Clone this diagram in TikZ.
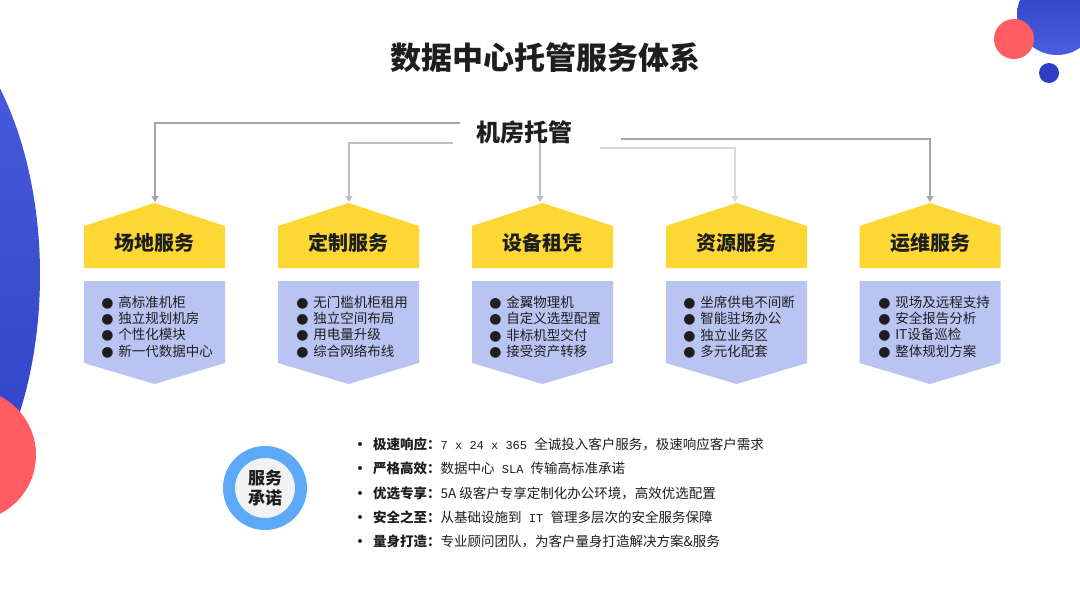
\documentclass[tikz,border=0pt]{standalone}
\usepackage{fontspec}
\setmainfont{Noto Sans CJK SC}
\newfontfamily\latmono{Liberation Mono}
\newfontfamily\dejavu{DejaVu Sans}
\usetikzlibrary{arrows.meta,calc}
\definecolor{hdr}{HTML}{FDD835}
\definecolor{bodyc}{HTML}{BAC4F2}
\definecolor{ringc}{HTML}{5BA9F7}
\definecolor{innerc}{HTML}{F2F2F2}
\definecolor{blueA}{HTML}{4A5EDE}
\definecolor{blueB}{HTML}{2C3FC3}
\definecolor{redc}{HTML}{FF5D63}
\definecolor{txt}{HTML}{1E1E1E}
\definecolor{gA}{HTML}{A6A6A6}
\definecolor{gB}{HTML}{BFBFBF}
\definecolor{gC}{HTML}{D9D9D9}
\tikzset{
  conn/.style={line width=2.2pt, -{Triangle[width=7pt,length=6pt]}},
  hdrtext/.style={font=\fontsize{20}{24}\selectfont\bfseries, text=txt, inner sep=0pt},
  itemtext/.style={font=\fontsize{13.5}{16.3}\selectfont, text=txt, align=left, inner sep=0pt},
  promise/.style={font=\fontsize{13.5}{16}\selectfont, text=txt, anchor=west, inner sep=0pt},
}
\newcommand{\itm}[1]{\makebox[17pt][l]{\dejavu\fontsize{14}{14}\selectfont ●}#1}
\newcommand{\pbul}{\makebox[17pt][l]{\dejavu •}}
\newcommand{\mono}[1]{{\latmono\fontsize{12}{16}\selectfont #1}}
\begin{document}
\begin{tikzpicture}[x=1pt,y=-1pt]
\useasboundingbox (0,0) rectangle (1080,608);
\fill[white] (0,0) rectangle (1080,608);
\begin{scope}
\clip (0,0) rectangle (1080,608);
\shade[top color=blueA, bottom color=blueB] (-120,275) ellipse [x radius=160, y radius=282];
\fill[redc] (-30,455) circle [radius=66];
\shade[top color=blueB, bottom color=blueA] (1057,15) circle [radius=40];
\fill[redc] (1014,39) circle [radius=20];
\fill[blueB] (1049,73) circle [radius=10];
\end{scope}

\node[font=\fontsize{31}{38}\selectfont\bfseries, text=txt] (title) at (545,58) {数据中心托管服务体系};

\node[font=\fontsize{24}{28}\selectfont\bfseries, text=txt, inner sep=0pt] (root) at (524,132.5) {机房托管};

% shapes
\foreach \c/\i in {154.5/1,348.5/2,542.5/3,736.5/4,930/5}{
  \fill[hdr] (\c-70.5,268) -- (\c-70.5,226) -- (\c,203) -- (\c+70.5,226) -- (\c+70.5,268) -- cycle;
  \fill[bodyc] (\c-70.5,281) -- (\c+70.5,281) -- (\c+70.5,363) -- (\c,384) -- (\c-70.5,363) -- cycle;
}

\node[hdrtext] (h1) at (154.5,243) {场地服务};
\node[hdrtext] (h2) at (348.5,243) {定制服务};
\node[hdrtext] (h3) at (542.5,243) {设备租凭};
\node[hdrtext] (h4) at (736.5,243) {资源服务};
\node[hdrtext] (h5) at (930,243) {运维服务};

\node[itemtext] (b1) at (157,327) {\itm{高标准机柜}\\\itm{独立规划机房}\\\itm{个性化模块}\\\itm{新一代数据中心}};
\node[itemtext] (b2) at (352,327) {\itm{无门槛机柜租用}\\\itm{独立空间布局}\\\itm{用电量升级}\\\itm{综合网络布线}};
\node[itemtext] (b3) at (545,327) {\itm{金翼物理机}\\\itm{自定义选型配置}\\\itm{非标机型交付}\\\itm{接受资产转移}};
\node[itemtext] (b4) at (739,327) {\itm{坐席供电不间断}\\\itm{智能驻场办公}\\\itm{独立业务区}\\\itm{多元化配套}};
\node[itemtext] (b5) at (934,327) {\itm{现场及远程支持}\\\itm{安全报告分析}\\\itm{IT设备巡检}\\\itm{整体规划方案}};

% connectors
\coordinate (s1) at (460,123);
\coordinate (s2) at (453,143);
\coordinate (s3) at (540,143);
\coordinate (s4) at (600,148);
\coordinate (s5) at (621,139);
\coordinate (t1) at (155,202);
\coordinate (t2) at (349,202);
\coordinate (t3) at (540,202);
\coordinate (t4) at (735,202);
\coordinate (t5) at (930,202);
\draw[conn, gA] (s1) -| (t1);
\draw[conn, gB] (s2) -| (t2);
\draw[conn, gB] (s3) -- (t3);
\draw[conn, gC] (s4) -| (t4);
\draw[conn, gA] (s5) -| (t5);

% promise circle
\node[circle, draw=ringc, line width=12pt, fill=innerc, minimum size=72pt, inner sep=0pt,
      font=\fontsize{17}{20}\selectfont\bfseries, text=txt, align=center] (circ) at (265,488) {服务\\承诺};

\node[promise] (p1) at (356,444) {\pbul\textbf{极速响应：}\mono{7 x 24 x 365 }全诚投入客户服务，极速响应客户需求};
\node[promise] (p2) at (356,468) {\pbul\textbf{严格高效：}数据中心\mono{\ SLA }传输高标准承诺};
\node[promise] (p3) at (356,493) {\pbul\textbf{优选专享：}5A 级客户专享定制化办公环境，高效优选配置};
\node[promise] (p4) at (356,517) {\pbul\textbf{安全之至：}从基础设施到\mono{\ IT }管理多层次的安全服务保障};
\node[promise] (p5) at (356,541) {\pbul\textbf{量身打造：}专业顾问团队，为客户量身打造解决方案\&服务};
\end{tikzpicture}
\end{document}
